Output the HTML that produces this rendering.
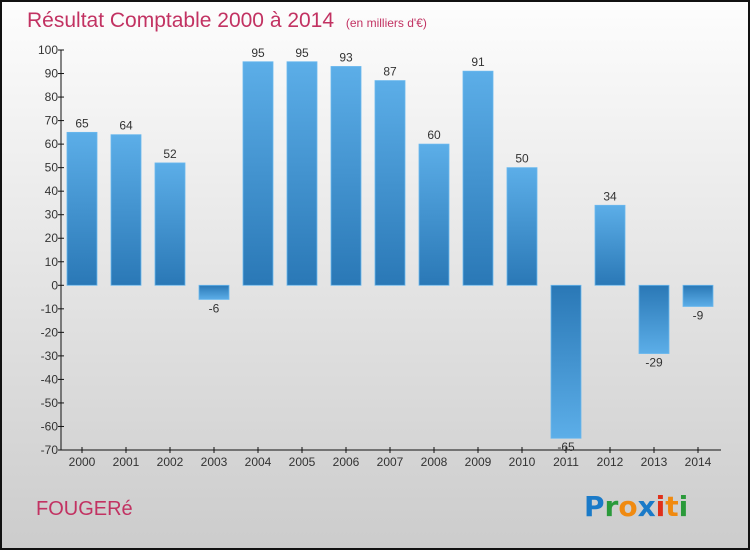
<!DOCTYPE html>
<html><head><meta charset="utf-8"><style>
body{margin:0;width:750px;height:550px;overflow:hidden;font-family:"Liberation Sans",sans-serif}
</style></head><body>
<svg width="750" height="550" xmlns="http://www.w3.org/2000/svg">
<defs>
<linearGradient id="bgG" x1="0" y1="0" x2="0" y2="1"><stop offset="0" stop-color="#fdfdfd"/><stop offset="1" stop-color="#cccccc"/></linearGradient>
<linearGradient id="posG" x1="0" y1="0" x2="0" y2="1"><stop offset="0" stop-color="#5caee8"/><stop offset="1" stop-color="#2a78b6"/></linearGradient>
<linearGradient id="negG" x1="0" y1="0" x2="0" y2="1"><stop offset="0" stop-color="#2a78b6"/><stop offset="1" stop-color="#5caee8"/></linearGradient>
</defs>
<rect x="1" y="1" width="748" height="548" fill="url(#bgG)" stroke="#111" stroke-width="2"/>
<text x="27" y="27" font-size="21" fill="#c23262">Résultat Comptable 2000 à 2014 <tspan font-size="12" dx="6">(en milliers d'€)</tspan></text>
<text x="36" y="515" font-size="20" fill="#c23262">FOUGERé</text>
<g id="logo" font-size="28" font-weight="bold" font-family="'DejaVu Sans',sans-serif">
<text x="584" y="516"><tspan fill="#1a7ac8">P</tspan><tspan fill="#2a9a3a">r</tspan><tspan fill="#f08a10">o</tspan><tspan fill="#1a7ac8">x</tspan><tspan fill="#e0301a">i</tspan><tspan fill="#f08a10">t</tspan><tspan fill="#2a9a3a">i</tspan></text>
</g>
<g id="plot"></g>
</svg>
<script>
const categories=["2000","2001","2002","2003","2004","2005","2006","2007","2008","2009","2010","2011","2012","2013","2014"];
const values=[65,64,52,-6,95,95,93,87,60,91,50,-65,34,-29,-9];
const yTicks=[100,90,80,70,60,50,40,30,20,10,0,-10,-20,-30,-40,-50,-60,-70];
const NS="http://www.w3.org/2000/svg";
const yMin=-70,yMax=100,plotTop=50,plotBot=450;
function y(v){return plotBot-(v-yMin)/(yMax-yMin)*(plotBot-plotTop);}
function x(i){return 82+i*44;}
const g=document.getElementById('plot');
function mk(t,a,txt){const e=document.createElementNS(NS,t);for(const k in a)e.setAttribute(k,a[k]);if(txt!=null)e.textContent=txt;g.appendChild(e);return e;}
let ax=mk('line',{x1:61,y1:plotTop,x2:61,y2:plotBot,stroke:'#111','stroke-width':1});


let bx=mk('line',{x1:61,y1:plotBot,x2:721,y2:plotBot,stroke:'#111','stroke-width':1});


yTicks.forEach(v=>{
 const t=mk('line',{x1:58,x2:64,y1:y(v),y2:y(v),stroke:'#111'});
 
 
 const l=mk('text',{x:58,y:y(v)+4,'text-anchor':'end','font-size':12,fill:'#333'},v);
 
 
});
categories.forEach((c,i)=>{
 const t=mk('line',{x1:x(i),x2:x(i),y1:plotBot-3,y2:plotBot+3,stroke:'#111'});
 
 
 const l=mk('text',{x:x(i),y:plotBot+16,'text-anchor':'middle','font-size':12,fill:'#333'},c);
 
 
 const v=values[i],y0=y(0),yv=y(v);
 const b=mk('rect',{x:x(i)-15,y:Math.min(y0,yv),width:30,height:Math.abs(yv-y0),fill:v>=0?'url(#posG)':'url(#negG)',stroke:'#6ab8ee','stroke-width':0.8});
 
 
 const vl=mk('text',{x:x(i),y:v>=0?yv-5:yv+13,'text-anchor':'middle','font-size':12,fill:'#333'},v);
 
 
});
</script>
</body></html>
